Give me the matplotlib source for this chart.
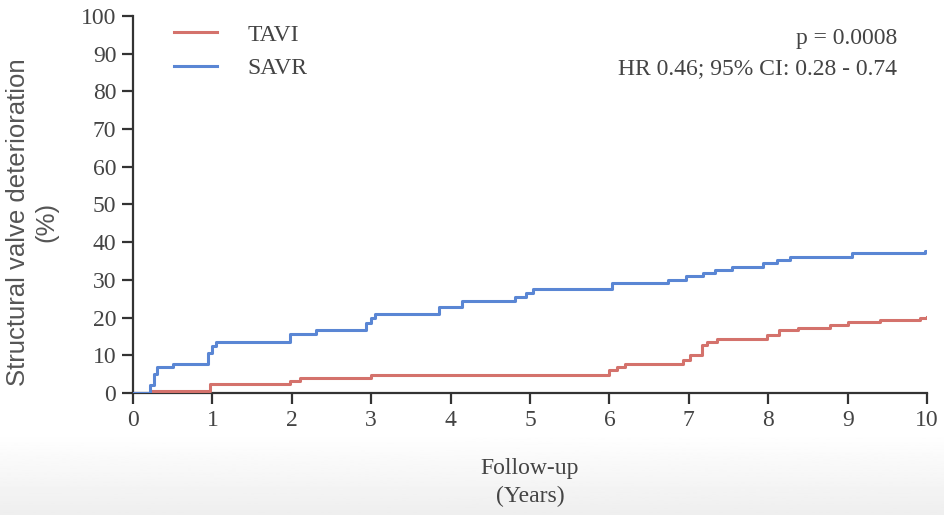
import matplotlib
matplotlib.use("Agg")
import matplotlib.pyplot as plt
import numpy as np

# Data (step curves: time in years, cumulative % SVD)
tavi_t = [0, 0.23, 0.97, 1.98, 2.10, 3.00, 5.99, 6.09, 6.20, 6.93, 7.02, 7.16, 7.23, 7.35, 7.98, 8.13, 8.38, 8.78, 9.01, 9.41, 9.91, 10.0]
tavi_y = [0, 0.4, 2.4, 3.2, 3.9, 4.7, 6.1, 7.0, 7.8, 8.8, 10.1, 12.7, 13.6, 14.2, 15.4, 16.6, 17.2, 18.0, 18.8, 19.4, 20.0, 20.2]
savr_t = [0, 0.22, 0.26, 0.30, 0.51, 0.95, 1.00, 1.05, 1.98, 2.31, 2.94, 3.00, 3.05, 3.85, 4.14, 4.81, 4.95, 5.04, 6.03, 6.74, 6.97, 7.18, 7.33, 7.54, 7.94, 8.11, 8.27, 9.05, 9.97, 10.0]
savr_y = [0, 2.0, 5.0, 7.0, 7.6, 10.5, 12.5, 13.4, 15.7, 16.8, 18.5, 20.0, 21.0, 22.7, 24.3, 25.5, 26.6, 27.6, 29.3, 30.1, 30.9, 31.8, 32.6, 33.5, 34.4, 35.3, 36.0, 37.0, 37.7, 37.7]

x_ticks = list(range(0, 11))
y_ticks = list(range(0, 101, 10))

red = "#d4726c"
blue = "#5a86d4"

fig = plt.figure(figsize=(9.45, 5.15), dpi=100)
# light grey gradient band at bottom (video frame)
bg = fig.add_axes([0, 0, 1, 0.16], zorder=-10)
grad = np.linspace(0, 1, 64).reshape(-1, 1)
bg.imshow(1 - 0.065 * (1 - grad), aspect="auto", cmap="gray",
          vmin=0, vmax=1, extent=[0, 1, 0, 1], origin="lower")
bg.axis("off")

ax = fig.add_axes([0.1407, 0.2369, 0.8403, 0.7321])
ax.patch.set_alpha(0)

serif = "Liberation Serif"
ax.step(tavi_t, tavi_y, where="post", color=red, lw=2.2, label="TAVI", zorder=3)
ax.step(savr_t, savr_y, where="post", color=blue, lw=2.2, label="SAVR", zorder=3)

ax.set_xlim(0, 10)
ax.set_ylim(0, 100)
ax.set_xticks(x_ticks)
ax.set_yticks(y_ticks)
for s in ["top", "right"]:
    ax.spines[s].set_visible(False)
for s in ["left", "bottom"]:
    ax.spines[s].set_linewidth(1.6)
    ax.spines[s].set_color("#333333")
ax.tick_params(axis="both", direction="out", length=8, width=1.6, color="#333333",
               labelsize=17, labelcolor="#444444", pad=4)
for lbl in ax.get_xticklabels() + ax.get_yticklabels():
    lbl.set_fontfamily(serif)

ax.set_xlabel("Follow-up\n(Years)", fontsize=17, family=serif, color="#444444", labelpad=20, linespacing=1.4)
ax.set_ylabel("Structural valve deterioration\n(%)", fontsize=18.5, family="Liberation Sans",
              color="#555555", labelpad=16, linespacing=1.25, y=0.454)

leg = ax.legend(loc="upper left", bbox_to_anchor=(0.025, 1.035), frameon=False,
                prop={"family": serif, "size": 17}, handlelength=1.8, labelspacing=0.5,
                handletextpad=1.3)
for t in leg.get_texts():
    t.set_color("#444444")

ax.text(0.962, 0.968, "p = 0.0008", transform=ax.transAxes, ha="right", va="top",
        fontsize=17, family=serif, color="#444444")
ax.text(0.962, 0.887, "HR 0.46; 95% CI: 0.28 - 0.74", transform=ax.transAxes, ha="right", va="top",
        fontsize=17, family=serif, color="#444444")

fig.savefig("out.png", dpi=100)
